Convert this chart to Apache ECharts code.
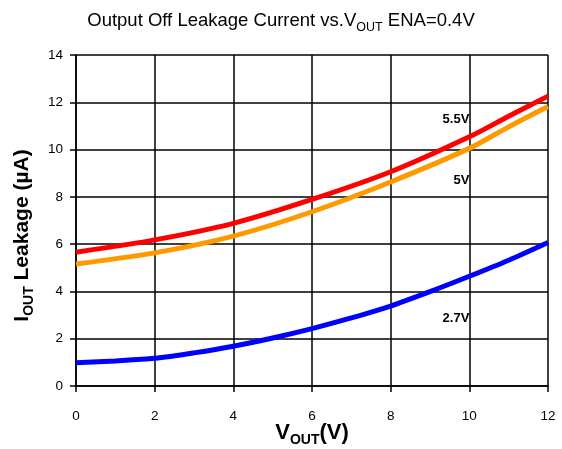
<!DOCTYPE html>
<html>
<head>
<meta charset="utf-8">
<script src="https://cdn.jsdelivr.net/npm/echarts@6/dist/echarts.min.js"></script>
<style>html,body{margin:0;padding:0;background:#fff;}#c{width:562px;height:449px;}</style>
</head>
<body>
<div id="c"></div>
<script>
const xTicks = [0, 2, 4, 6, 8, 10, 12];
const yTicks = [0, 2, 4, 6, 8, 10, 12, 14];
const vout = [0, 2, 4, 6, 8, 10, 11, 12];
const s55 = [5.66, 6.18, 6.88, 7.89, 9.06, 10.54, 11.41, 12.26];
const s50 = [5.16, 5.63, 6.34, 7.37, 8.63, 10.05, 10.96, 11.82];
const vout27 = [0, 1, 2, 3, 4, 5, 6, 7, 8, 9, 10, 11, 12];
const s27 = [0.98, 1.06, 1.17, 1.40, 1.68, 2.03, 2.43, 2.88, 3.38, 3.99, 4.64, 5.32, 6.07];
const seriesNames = ['5.5V', '5V', '2.7V'];

const chart = echarts.init(document.getElementById('c'));
const FONT = 'Liberation Sans, Arial, sans-serif';
function pairs(xs, ys) { return xs.map((x, i) => [x, ys[i]]); }

chart.setOption({
  animation: false,
  backgroundColor: '#fff',
  title: {
    text: '{a|Output Off Leakage Current vs.V}{b|OUT}{a| ENA=0.4V}',
    left: 'center', top: 3,
    textStyle: {
      fontWeight: 'normal',
      rich: {
        a: { fontFamily: FONT, fontSize: 18.5, fontWeight: 'normal', color: '#000', lineHeight: 26, verticalAlign: 'middle' },
        b: { fontFamily: FONT, fontSize: 12.5, fontWeight: 'normal', color: '#000', lineHeight: 26, verticalAlign: 'bottom' }
      }
    }
  },
  grid: { left: 76, right: 14, top: 55, bottom: 63, outerBoundsMode: 'none', containLabel: false },
  xAxis: {
    type: 'value', min: 0, max: 12, interval: 2,
    name: '{a|V}{b|OUT}{a|(V)}', nameLocation: 'middle', nameGap: 33, nameMoveOverlap: false,
    nameTextStyle: {
      rich: {
        a: { fontFamily: FONT, fontSize: 22, fontWeight: 'bold', color: '#000', lineHeight: 28, verticalAlign: 'middle' },
        b: { fontFamily: FONT, fontSize: 14, fontWeight: 'bold', color: '#000', lineHeight: 28, verticalAlign: 'bottom' }
      }
    },
    axisLine: { show: true, lineStyle: { color: '#000', width: 1.5 } },
    axisTick: { show: true, inside: false, length: 6, lineStyle: { color: '#000', width: 1.5 } },
    axisLabel: { fontFamily: FONT, fontSize: 13.5, color: '#000', margin: 23,
      formatter: v => xTicks.includes(v) ? String(v) : '' },
    splitLine: { show: true, lineStyle: { color: '#000', width: 1.5 } }
  },
  yAxis: {
    type: 'value', min: 0, max: 14, interval: 2,
    name: '{a|I}{b|OUT}{a| Leakage (µA)}', nameLocation: 'middle', nameGap: 40, nameRotate: 90,
    nameTextStyle: {
      padding: [0, 30, 0, 0],
      rich: {
        a: { fontFamily: FONT, fontSize: 21, fontWeight: 'bold', color: '#000', lineHeight: 28, verticalAlign: 'middle' },
        b: { fontFamily: FONT, fontSize: 14, fontWeight: 'bold', color: '#000', lineHeight: 28, verticalAlign: 'bottom' }
      }
    },
    axisLine: { show: true, lineStyle: { color: '#000', width: 1.5 } },
    axisTick: { show: true, inside: false, length: 6, lineStyle: { color: '#000', width: 1.5 } },
    axisLabel: { fontFamily: FONT, fontSize: 13.5, color: '#000', margin: 13,
      formatter: v => yTicks.includes(v) ? String(v) : '' },
    splitLine: { show: true, lineStyle: { color: '#000', width: 1.5 } }
  },
  series: [
    { name: seriesNames[0], type: 'line', data: pairs(vout, s55), smooth: 0.3, symbol: 'none',
      lineStyle: { color: '#FF0000', width: 5 }, z: 5 },
    { name: seriesNames[1], type: 'line', data: pairs(vout, s50), smooth: 0.3, symbol: 'none',
      lineStyle: { color: '#FF9900', width: 5 }, z: 4 },
    { name: seriesNames[2], type: 'line', data: pairs(vout27, s27), smooth: 0.3, symbol: 'none',
      lineStyle: { color: '#0000FF', width: 5 }, z: 4 }
  ]
});

const labelPos = [[10, 11.27], [10, 8.7], [10, 2.87]];
chart.setOption({
  graphic: seriesNames.map((n, i) => {
    const p = chart.convertToPixel({ gridIndex: 0 }, labelPos[i]);
    return { type: 'text', x: p[0], y: p[1], z: 10,
      style: { text: n, fontFamily: FONT, fontSize: 13, fontWeight: 'bold', fill: '#000',
        align: 'right', verticalAlign: 'middle' } };
  })
});
</script>
</body>
</html>
